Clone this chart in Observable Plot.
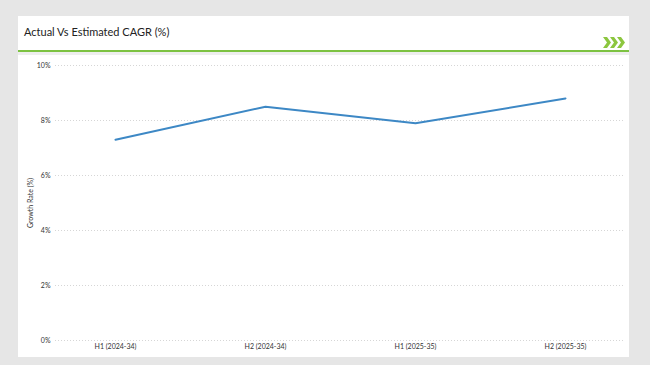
<!DOCTYPE html>
<html>
<head>
<meta charset="utf-8">
<script src="https://cdn.jsdelivr.net/npm/d3@7"></script>
<script src="https://cdn.jsdelivr.net/npm/@observablehq/plot@0.6"></script>
<style>
  html, body { margin: 0; padding: 0; }
  body { width: 650px; height: 365px; background: #e6e6e6; position: relative; overflow: hidden; font-family: Lato, "Open Sans", sans-serif; }
  #card { position: absolute; left: 18px; top: 16px; width: 611px; height: 341px; background: #fff; }
  #title { position: absolute; left: 24px; top: 25px; font-size: 11px; color: #222; white-space: nowrap; }
  #rule { position: absolute; left: 18px; top: 50px; width: 611px; height: 2px; background: #7dc242; }
  #gap { position: absolute; left: 18px; top: 52px; width: 611px; height: 3px; background: #eeeeee; }
  #chev { position: absolute; left: 603px; top: 37px; }
  #chart { position: absolute; left: 0; top: 56px; }
</style>
</head>
<body>
<div id="card"></div>
<div id="title">Actual Vs Estimated CAGR (%)</div>
<svg id="chev" width="24" height="11" viewBox="0 0 24 11">
  <g fill="#8cc63f">
    <polygon points="0,0 4,0 8,5.5 4,11 0,11 4,5.5"/>
    <polygon points="7,0 11,0 15,5.5 11,11 7,11 11,5.5"/>
    <polygon points="14,0 18,0 22,5.5 18,11 14,11 18,5.5"/>
  </g>
</svg>
<div id="rule"></div>
<div id="gap"></div>
<div id="chart"></div>
<script>
const periods = ["H1 (2024-34)", "H2 (2024-34)", "H1 (2025-35)", "H2 (2025-35)"];
const growth = [7.3, 8.5, 7.9, 8.8];
const yTicks = [0, 2, 4, 6, 8, 10];

const data = periods.map((p, i) => ({period: p, value: growth[i]}));

const chart = Plot.plot({
  width: 650,
  height: 300,
  marginLeft: 55,
  marginRight: 25,
  marginTop: 9,
  marginBottom: 16,
  style: {fontFamily: "Lato, 'Open Sans', sans-serif", fontSize: "7px", color: "#333", background: "transparent"},
  x: {type: "point", domain: periods, padding: 0.4},
  y: {domain: [0, 10]},
  marks: [
    Plot.gridY(yTicks, {stroke: "#d6d6d6", strokeOpacity: 1, strokeDasharray: "1,2"}),
    Plot.axisY(yTicks, {tickSize: 0, tickPadding: 5, tickFormat: d => d + "%", fontSize: 7, fill: "#333",
      label: "Growth Rate (%)", labelAnchor: "center", labelArrow: "none", labelOffset: 27}),
    Plot.axisX({tickSize: 0, tickPadding: 4, fontSize: 7, fill: "#333", label: null}),
    Plot.line(data, {x: "period", y: "value", stroke: "#3d88c5", strokeWidth: 2})
  ]
});
document.getElementById("chart").appendChild(chart);
</script>
</body>
</html>
